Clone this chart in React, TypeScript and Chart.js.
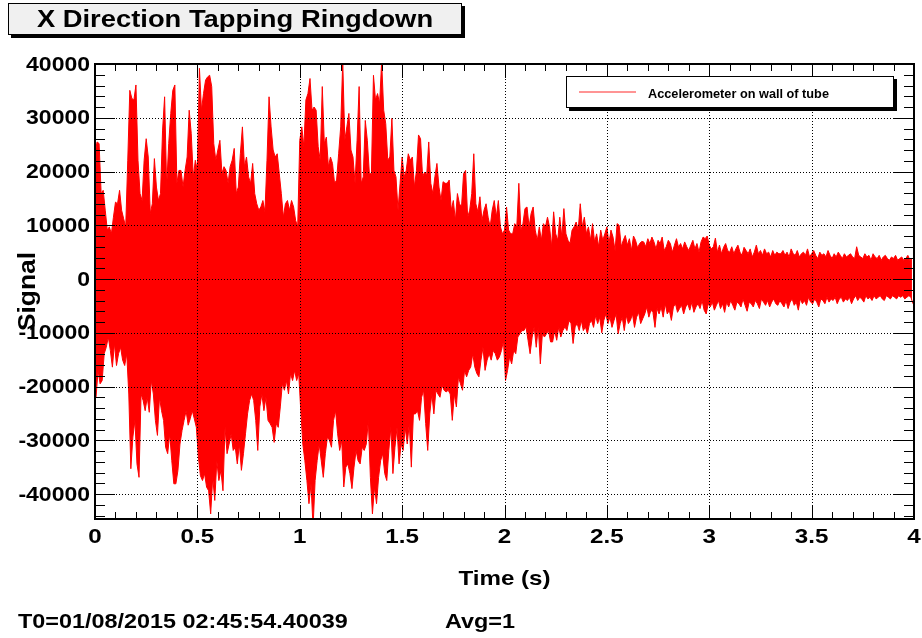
import React, { useEffect, useRef } from 'react';
import { Chart, registerables } from 'chart.js';

Chart.register(...registerables);

// ---- data (signal units) ----
const SAMPLE_DT = 0.01; // seconds between successive peak readings

const upperPeaks = [
  23300, 25500, 25200, 15900, 16500, 12800, 9100, 9700, 8400, 11500,
  14300, 14000, 16500, 12800, 11200, 9700, 22100, 35100, 33600, 33300,
  36100, 22100, 15900, 14600, 22100, 26100, 22700, 12200, 14000, 22400,
  17100, 14600, 15900, 27700, 33900, 17100, 25200, 30800, 35100, 36100,
  17800, 20200, 20200, 17100, 20200, 22700, 31400, 27100, 19000, 22100,
  20200, 39200, 31400, 34500, 37000, 37600, 37900, 35800, 25200, 22100,
  24000, 25800, 19600, 20900, 20200, 17800, 20900, 22100, 24300, 15900,
  17100, 23300, 28300, 20900, 22700, 19000, 17800, 21500, 15900, 14000,
  12800, 13400, 14600, 12500, 22100, 33900, 28300, 24000, 22700, 23300,
  19600, 15900, 11500, 14000, 14600, 12800, 14600, 13400, 10900, 9700,
  25800, 28300, 24600, 33300, 34500, 37300, 31400, 32000, 31400, 24600,
  22100, 35800, 25200, 26400, 20900, 22700, 21500, 17800, 18400, 23300,
  28300, 40500, 25800, 28300, 30800, 24000, 22700, 17800, 25800, 35800,
  17800, 19000, 29500, 25800, 19600, 19600, 37900, 33300, 34500, 32600,
  40500, 31400, 28900, 22100, 22700, 29900, 20200, 19000, 12800, 17800,
  22700, 19000, 20200, 23300, 22100, 22700, 17100, 20200, 26800, 26100,
  19000, 19900, 19300, 25500, 17800, 15900, 19000, 21500, 17100, 14600,
  18100, 17800, 17800, 18400, 12800, 14600, 10900, 15900, 14000, 13400,
  19600, 20200, 11500, 12800, 15900, 23300, 14000, 12500, 15300, 10900,
  12800, 14000, 11500, 9700, 12800, 14600, 11500, 14600, 9700, 8400,
  9100, 13400, 9100, 8400, 8400, 10300, 9700, 17800, 9100, 10300,
  13100, 13400, 9700, 12200, 13400, 9100, 7200, 9700, 7200, 10300,
  9700, 11500, 9700, 6000, 12500, 8400, 7200, 11500, 7800, 13100,
  8400, 7200, 6600, 9100, 9700, 10600, 9100, 14000, 9700, 11500,
  8400, 9700, 7200, 10300, 6900, 8400, 6000, 9100, 7200, 8400,
  9700, 6600, 9100, 7800, 5300, 10300, 10000, 6000, 7200, 8100,
  6300, 7500, 5300, 8000, 7200, 5800, 6600, 7000, 6900, 6000,
  7500, 6600, 7800, 6900, 5600, 7200, 6600, 7800, 5300, 6000,
  7200, 6600, 5000, 6300, 7500, 5900, 6600, 5600, 6900, 6000,
  5300, 6300, 7200, 5600, 6600, 5000, 6900, 7800, 7500, 8000,
  6300, 5600, 6000, 7600, 5000, 6300, 4700, 5900, 6600, 5300,
  5000, 6000, 4700, 5600, 6300, 5000, 4400, 5900, 5300, 4700,
  5600, 4100, 5000, 6300, 4700, 5300, 4400, 5600, 4700, 5000,
  4100, 5300, 4400, 5000, 4700, 4700, 5300, 4400, 5000, 4100,
  5600, 4700, 4400, 5300, 4100, 4700, 5000, 4400, 5600, 4100,
  4700, 5300, 4400, 3800, 5000, 4400, 4700, 4100, 5300, 4400,
  3800, 4700, 4100, 5000, 4400, 3800, 4700, 4100, 4400, 4700,
  4100, 3800, 6000, 4400, 4100, 3800, 4700, 4100, 4400, 3500,
  4700, 4100, 3800, 4400, 3500, 4100, 4400, 3800, 3500, 4100,
  3800, 4400, 3500, 3800, 4100, 3500, 3800, 4400, 3500, 3800,
];

const lowerPeaks = [
  -22000, -17000, -19500, -18900, -13900, -12700, -10800, -13300, -16400, -12000,
  -16100, -13900, -12700, -15100, -16100, -13900, -21400, -35300, -29400, -26300,
  -34400, -36900, -21400, -22600, -24500, -22000, -24800, -18900, -21400, -26300,
  -29100, -22000, -24500, -26300, -31300, -32500, -28800, -33800, -38100, -38100,
  -35600, -30700, -28200, -26300, -24500, -27200, -26000, -24500, -26000, -27600,
  -33100, -36600, -37500, -36200, -38700, -39400, -43700, -36900, -41200, -33800,
  -37500, -35600, -39400, -27600, -32500, -30700, -28800, -31900, -31300, -34400,
  -30700, -35600, -32500, -28800, -25100, -22600, -21400, -22600, -26300, -31900,
  -23800, -21400, -24500, -22000, -26300, -26900, -27600, -30400, -26900, -27600,
  -23800, -19500, -20700, -18900, -21400, -17600, -18900, -17000, -18900, -17600,
  -24500, -30700, -33800, -37500, -41800, -38100, -46200, -37500, -33800, -30700,
  -33800, -36900, -32500, -29400, -30000, -31300, -26300, -24500, -28800, -31900,
  -30000, -38700, -35000, -34400, -36200, -39000, -35000, -31900, -33800, -34400,
  -31300, -31900, -30700, -26300, -36900, -43700, -38700, -41800, -36900, -33800,
  -32500, -36200, -37500, -31900, -27600, -36200, -31300, -27600, -34400, -30700,
  -31900, -27600, -30700, -26900, -35000, -25100, -25100, -24500, -26300, -22000,
  -20700, -26900, -31900, -25100, -21400, -25100, -20700, -21400, -22000, -19800,
  -20700, -21000, -20700, -21400, -26300, -21400, -23800, -18200, -19500, -20700,
  -17000, -18200, -17000, -16400, -13900, -16400, -17600, -18200, -15100, -12700,
  -17000, -15100, -13900, -15100, -13300, -13900, -15100, -14500, -13300, -11500,
  -18900, -17000, -14500, -15800, -13300, -13900, -10800, -10200, -9600, -9600,
  -8900, -11400, -13900, -10800, -8900, -12700, -8900, -15800, -10200, -10800,
  -10200, -9600, -11700, -11700, -9600, -11400, -8900, -10800, -9600, -8900,
  -9600, -7700, -8300, -12000, -8900, -8300, -9600, -7700, -9600, -8900,
  -10200, -8300, -7700, -9000, -6800, -8300, -7100, -10000, -7700, -6500,
  -8300, -7100, -9000, -7700, -6500, -10200, -8300, -7100, -9600, -6800,
  -8300, -7700, -6500, -9000, -7100, -6200, -8300, -7400, -6500, -5200,
  -7100, -5800, -6200, -9000, -5500, -6500, -5200, -7100, -4600, -6500,
  -5800, -7700, -5200, -4600, -6200, -5500, -4900, -6500, -5200, -4600,
  -5800, -4300, -6200, -5200, -4600, -5500, -4000, -5800, -6500, -4600,
  -5200, -4300, -5800, -4900, -4000, -5500, -4600, -6200, -4300, -5200,
  -4000, -4900, -5800, -4300, -4600, -5200, -3700, -4900, -6000, -4300,
  -4600, -5200, -4000, -4600, -5500, -3700, -4300, -4900, -4000, -5200,
  -4300, -3700, -4600, -4900, -4000, -4600, -5200, -4000, -5500, -4300,
  -3700, -4900, -4300, -5800, -3700, -4600, -4000, -4900, -3400, -4300,
  -4600, -3700, -4300, -5200, -3700, -4000, -4600, -3400, -4300, -3700,
  -4000, -3400, -4600, -3700, -3400, -4300, -3700, -4000, -3400, -4600,
  -3700, -3100, -4000, -3400, -3700, -4300, -3100, -3700, -3400, -4000,
  -3100, -3700, -3400, -3100, -3700, -4000, -3100, -3400, -3700, -3100,
  -3400, -3700, -3100, -3400, -3100, -3700, -3400, -3100, -3400, -4600,
];

const xTickValues = [0, 0.5, 1, 1.5, 2, 2.5, 3, 3.5, 4];
const xTickLabels = ['0', '0.5', '1', '1.5', '2', '2.5', '3', '3.5', '4'];
const yTickValues = [-40000, -30000, -20000, -10000, 0, 10000, 20000, 30000, 40000];
const yTickLabels = ['-40000', '-30000', '-20000', '-10000', '0', '10000', '20000', '30000', '40000'];

const X_MIN = 0;
const X_MAX = 4;
const Y_MIN = -44650;
const Y_MAX = 40000;
const X_MINOR_STEP = 0.1;
const Y_MINOR_STEP = 2000;

const TITLE = 'X Direction Tapping Ringdown';
const LEGEND_LABEL = 'Accelerometer on wall of tube';
const X_TITLE = 'Time (s)';
const Y_TITLE = 'Signal';
const FOOTER_T0 = 'T0=01/08/2015 02:45:54.40039';
const FOOTER_AVG = 'Avg=1';

const FONT = '"Liberation Sans", Arial, Helvetica, sans-serif';
const SX = 1.15;

function drawText(
  ctx: CanvasRenderingContext2D,
  text: string,
  x: number,
  y: number,
  size: number,
  align: CanvasTextAlign,
  baseline: CanvasTextBaseline,
  sx: number = SX
) {
  ctx.save();
  ctx.translate(x, y);
  ctx.scale(sx, 1);
  ctx.font = `bold ${size}px ${FONT}`;
  ctx.fillStyle = '#000';
  ctx.textAlign = align;
  ctx.textBaseline = baseline;
  ctx.fillText(text, 0, 0);
  ctx.restore();
}

function seg(ctx: CanvasRenderingContext2D, x1: number, y1: number, x2: number, y2: number) {
  ctx.beginPath();
  ctx.moveTo(x1, y1);
  ctx.lineTo(x2, y2);
  ctx.stroke();
}

const rootStylePlugin = {
  id: 'rootStyle',
  afterDatasetsDraw(chart: any) {
    const ctx: CanvasRenderingContext2D = chart.ctx;
    const a = chart.chartArea;
    const xs = chart.scales.x;
    const ys = chart.scales.y;
    ctx.save();

    // dotted grid at major ticks
    ctx.strokeStyle = '#000';
    ctx.lineWidth = 1;
    ctx.setLineDash([1, 2]);
    xTickValues.forEach((v) => {
      if (v <= X_MIN || v >= X_MAX) return;
      const px = Math.round(xs.getPixelForValue(v)) + 0.5;
      seg(ctx, px, a.top, px, a.bottom);
    });
    yTickValues.forEach((v) => {
      const py = Math.round(ys.getPixelForValue(v)) + 0.5;
      seg(ctx, a.left, py, a.right, py);
    });
    ctx.setLineDash([]);

    // ticks (inside, on all four sides)
    ctx.lineWidth = 1;
    const nx = Math.round((X_MAX - X_MIN) / X_MINOR_STEP);
    for (let k = 0; k <= nx; k++) {
      const v = X_MIN + k * X_MINOR_STEP;
      const major = k % 5 === 0;
      const len = major ? 14 : 7;
      const px = Math.round(xs.getPixelForValue(v)) + 0.5;
      seg(ctx, px, a.bottom, px, a.bottom - len);
      seg(ctx, px, a.top, px, a.top + len);
    }
    for (let v = -44000; v <= Y_MAX; v += Y_MINOR_STEP) {
      const major = v % 10000 === 0;
      const len = major ? 20 : 10;
      const py = Math.round(ys.getPixelForValue(v)) + 0.5;
      seg(ctx, a.left, py, a.left + len, py);
      seg(ctx, a.right, py, a.right - len, py);
    }

    // frame
    ctx.lineWidth = 2;
    ctx.strokeRect(a.left, a.top, a.right - a.left, a.bottom - a.top);

    // tick labels
    xTickValues.forEach((v, i) => {
      drawText(ctx, xTickLabels[i], xs.getPixelForValue(v), a.bottom + 24, 21, 'center', 'alphabetic');
    });
    yTickValues.forEach((v, i) => {
      drawText(ctx, yTickLabels[i], a.left - 5, ys.getPixelForValue(v) + 1, 20, 'right', 'middle');
    });

    // axis titles
    drawText(ctx, X_TITLE, (a.left + a.right) / 2, 585, 21, 'center', 'alphabetic');
    ctx.save();
    ctx.translate(35, (a.top + a.bottom) / 2);
    ctx.rotate(-Math.PI / 2);
    ctx.scale(1.1, 1);
    ctx.font = `bold 24px ${FONT}`;
    ctx.fillStyle = '#000';
    ctx.textAlign = 'center';
    ctx.textBaseline = 'alphabetic';
    ctx.fillText(Y_TITLE, 0, 0);
    ctx.restore();

    // title box with shadow
    ctx.fillStyle = '#000';
    ctx.fillRect(11, 6, 454, 32);
    ctx.fillStyle = '#f0f0f0';
    ctx.fillRect(8, 3, 454, 32);
    ctx.lineWidth = 1;
    ctx.strokeStyle = '#000';
    ctx.strokeRect(8.5, 3.5, 453, 31);
    drawText(ctx, TITLE, 235, 27, 24, 'center', 'alphabetic', 1.14);

    // legend with shadow
    ctx.fillStyle = '#000';
    ctx.fillRect(569, 79, 328, 32);
    ctx.fillStyle = '#fff';
    ctx.fillRect(566, 76, 328, 32);
    ctx.strokeRect(566.5, 76.5, 327, 31);
    ctx.strokeStyle = '#ff7070';
    ctx.lineWidth = 1.5;
    seg(ctx, 579, 92, 636, 92);
    drawText(ctx, LEGEND_LABEL, 648, 98, 12, 'left', 'alphabetic', 1.06);

    // footer
    drawText(ctx, FOOTER_T0, 18, 628, 20, 'left', 'alphabetic', 1.17);
    drawText(ctx, FOOTER_AVG, 445, 628, 20, 'left', 'alphabetic', 1.17);

    ctx.restore();
  },
};

export default function App() {
  const canvasRef = useRef<HTMLCanvasElement | null>(null);

  useEffect(() => {
    const canvas = canvasRef.current;
    if (!canvas) return;
    const n = Math.min(upperPeaks.length, lowerPeaks.length);
    const upperPts: { x: number; y: number }[] = [];
    const lowerPts: { x: number; y: number }[] = [];
    for (let i = 0; i < n; i++) {
      upperPts.push({ x: i * SAMPLE_DT, y: upperPeaks[i] });
      lowerPts.push({ x: i * SAMPLE_DT + SAMPLE_DT / 2, y: lowerPeaks[i] });
    }
    const chart = new Chart(canvas, {
      type: 'line',
      data: {
        datasets: [
          {
            label: LEGEND_LABEL,
            data: upperPts,
            borderColor: '#ff0000',
            backgroundColor: '#ff0000',
            borderWidth: 1,
            pointRadius: 0,
            fill: '+1',
            tension: 0,
          },
          {
            label: LEGEND_LABEL + ' (lower)',
            data: lowerPts,
            borderColor: '#ff0000',
            borderWidth: 1,
            pointRadius: 0,
            fill: false,
            tension: 0,
          },
        ],
      },
      options: {
        animation: false,
        responsive: false,
        devicePixelRatio: 1,
        events: [],
        layout: { padding: { left: 95, top: 64, right: 8, bottom: 119 } },
        plugins: {
          legend: { display: false },
          title: { display: false },
          tooltip: { enabled: false },
          filler: { propagate: false },
        },
        scales: {
          x: { type: 'linear', min: X_MIN, max: X_MAX, display: false },
          y: { type: 'linear', min: Y_MIN, max: Y_MAX, display: false },
        },
      },
      plugins: [rootStylePlugin],
    } as any);
    return () => chart.destroy();
  }, []);

  return (
    <div style={{ position: 'absolute', left: 0, top: 0, width: 922, height: 638, background: '#fff' }}>
      <canvas ref={canvasRef} width={922} height={638} style={{ display: 'block' }} />
    </div>
  );
}
